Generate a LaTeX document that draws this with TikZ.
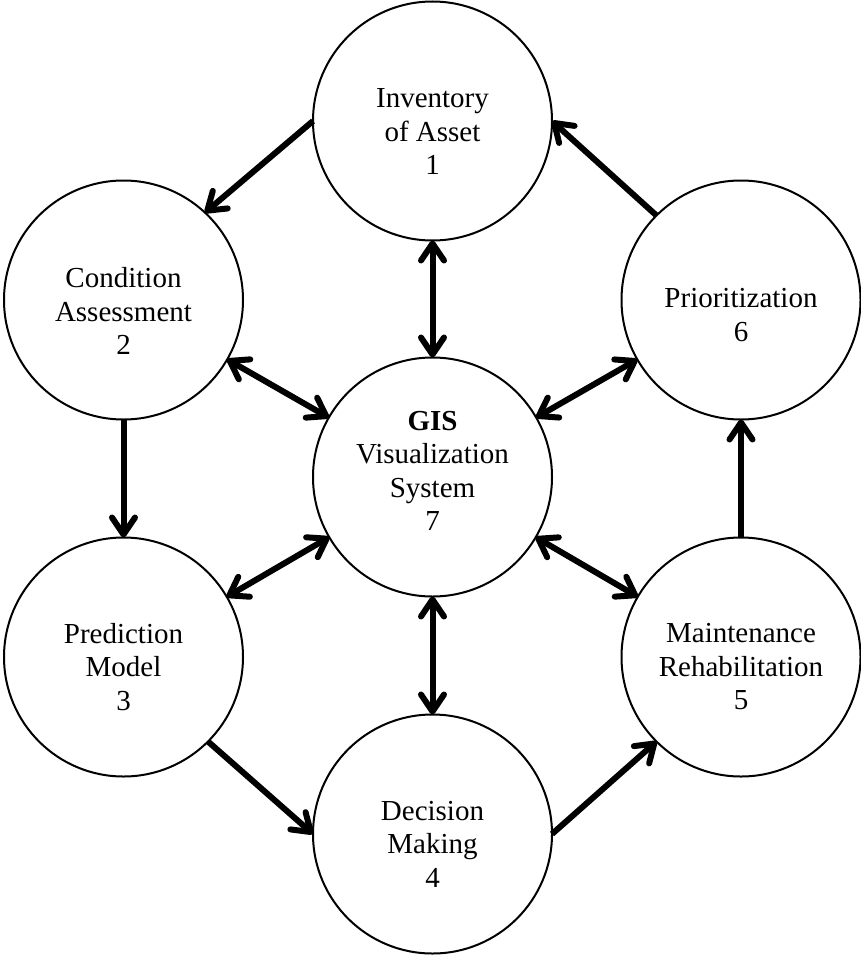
\documentclass[tikz,border=0pt]{standalone}
\usepackage{fontspec}
\setmainfont{Liberation Serif}
\usetikzlibrary{arrows.meta}
\begin{document}
\begin{tikzpicture}[x=1pt,y=-1pt,
  stage/.style={circle,draw,line width=2pt,minimum size=239pt,inner sep=0pt,outer sep=0pt},
  lbl/.style={align=center,font=\fontsize{29}{33.5}\selectfont,inner sep=0pt},
  barb/.tip={Straight Barb[length=17pt,width=23pt,round]},
  flow/.style={line width=6pt,-barb},
  link/.style={line width=6pt,barb-barb}]
\useasboundingbox (0,0) rectangle (861,958);

% the seven stages
\node[stage] (c1) at (432.5,121) {};
\node[stage] (c2) at (123.5,300) {};
\node[stage] (c3) at (123.5,657) {};
\node[stage] (c4) at (432.5,834) {};
\node[stage] (c5) at (741,657) {};
\node[stage] (c6) at (741,300) {};
\node[stage] (c7) at (432.5,477) {};

% stage captions
\node[lbl] (t1) at (432.5,132) {Inventory\\of Asset\\1};
\node[lbl] (t2) at (123.5,311) {Condition\\Assessment\\2};
\node[lbl] (t3) at (123.5,667) {Prediction\\Model\\3};
\node[lbl] (t4) at (432.5,844) {Decision\\Making\\4};
\node[lbl] (t5) at (741,667) {Maintenance\\Rehabilitation\\5};
\node[lbl] (t6) at (741,315) {Prioritization\\6};
\node[lbl] (t7) at (432.5,471) {\textbf{GIS}\\Visualization\\System\\7};

% cycle around the ring
\draw[flow] (c1.180) -- (c2.47);
\draw[flow] (c2.south) -- (c3.north);
\draw[flow] (c3.-45) -- (c4.180);
\draw[flow] (c4.0) -- (c5.225);
\draw[flow] (c5.north) -- (c6.south);
\draw[flow] (c6.135) -- (c1.0);

% exchanges with the GIS hub
\draw[link] (c1.south) -- (c7.north);
\draw[link] (c2) -- (c7);
\draw[link] (c3) -- (c7);
\draw[link] (c7.south) -- (c4.north);
\draw[link] (c5) -- (c7);
\draw[link] (c6) -- (c7);
\end{tikzpicture}
\end{document}
